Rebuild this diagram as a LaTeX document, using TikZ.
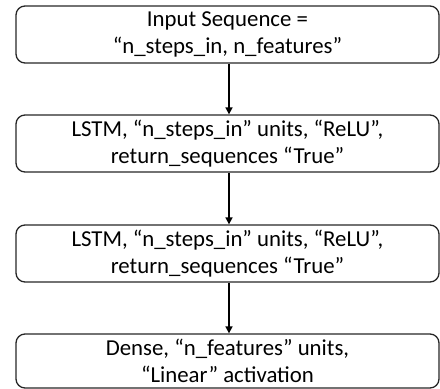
\documentclass[tikz,border=0pt]{standalone}
\usepackage{fontspec}
\setmainfont{Carlito}
\usetikzlibrary{arrows.meta}
\tikzset{
  layerbox/.style={draw=black!85, line width=1.3pt, rounded corners=9pt,
    minimum width=423pt, inner sep=0pt, align=center,
    font=\fontsize{22.8pt}{26.5pt}\selectfont},
  flow/.style={draw=black, line width=1.6pt, -{Triangle[width=7pt,length=7pt]}}
}
\begin{document}
\begin{tikzpicture}[x=1pt,y=1pt]
  \useasboundingbox (0,0) rectangle (440,389);
  \node[layerbox, minimum height=57pt] (inp) at (227.5,354.5)
    {Input Sequence =\\“n\_steps\_in, n\_features”};
  \node[layerbox, minimum height=57pt] (lstmA) at (227.5,245.5)
    {LSTM, “n\_steps\_in” units, “ReLU”,\\return\_sequences “True”};
  \node[layerbox, minimum height=57pt] (lstmB) at (227.5,135.5)
    {LSTM, “n\_steps\_in” units, “ReLU”,\\return\_sequences “True”};
  \node[layerbox, minimum height=54pt] (dense) at (227.5,28)
    {Dense, “n\_features” units,\\“Linear” activation};
  \draw[flow] (inp.south -| 229,0) -- (lstmA.north -| 229,0);
  \draw[flow] (lstmA.south -| 229,0) -- (lstmB.north -| 229,0);
  \draw[flow] (lstmB.south -| 229,0) -- (dense.north -| 229,0);
\end{tikzpicture}
\end{document}
